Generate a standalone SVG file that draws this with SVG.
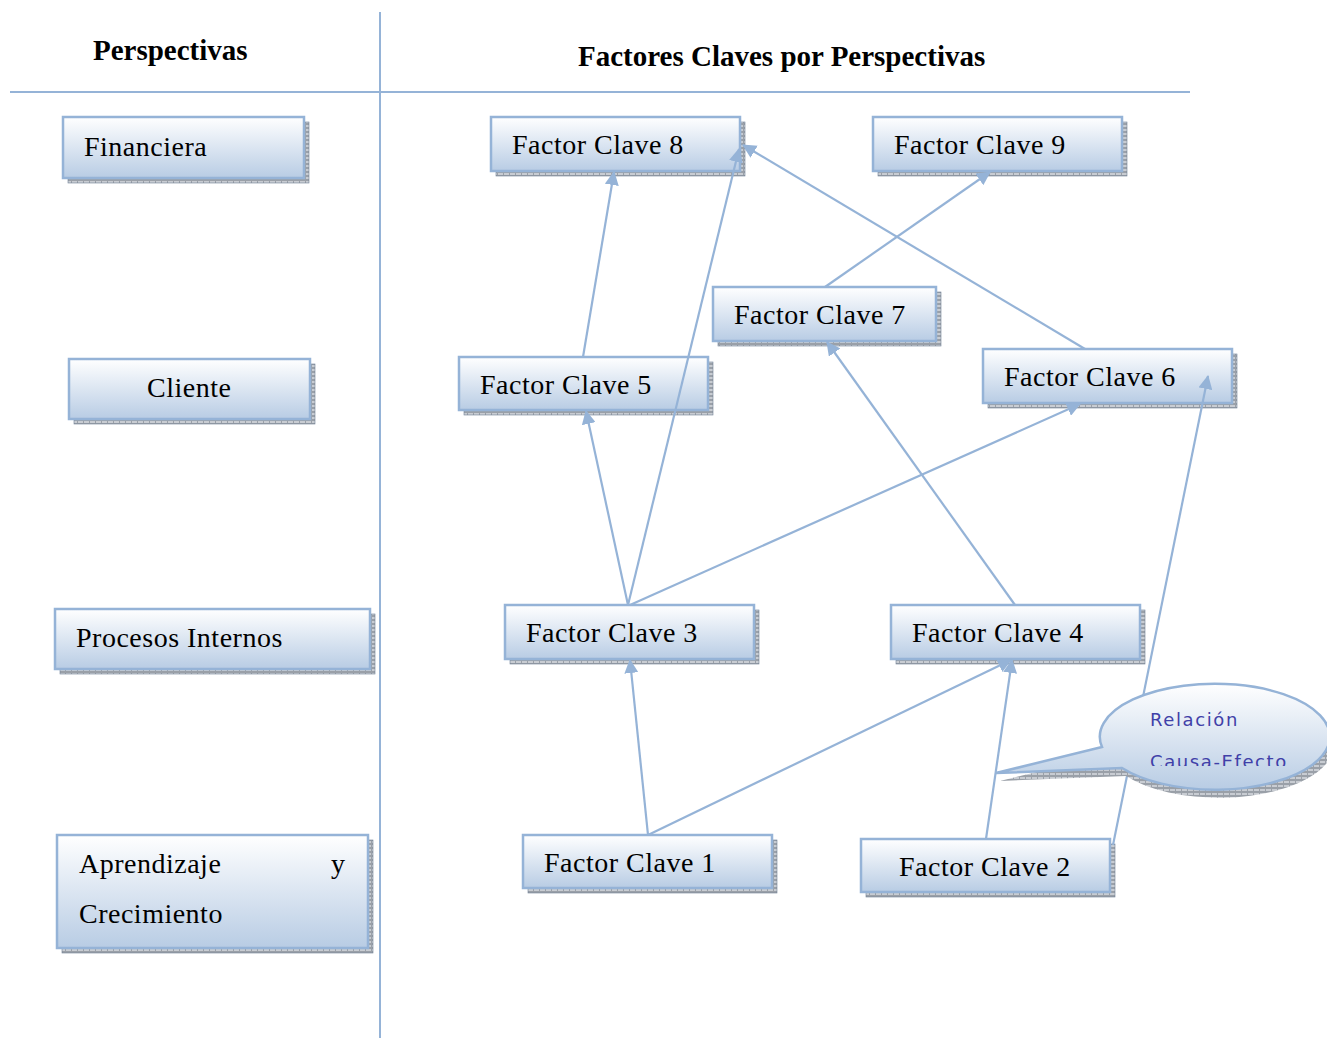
<svg xmlns="http://www.w3.org/2000/svg" width="1327" height="1038" viewBox="0 0 1327 1038">
<defs>
<linearGradient id="g" x1="0" y1="0" x2="0" y2="1">
<stop offset="0" stop-color="#ffffff"/>
<stop offset="1" stop-color="#b8cce4"/>
</linearGradient>
<pattern id="h" width="6" height="4" patternUnits="userSpaceOnUse">
<rect width="6" height="4" fill="#9aa0a8"/>
<rect x="0" y="1" width="5" height="2" fill="#c8ccd2"/>
</pattern>
<marker id="a" markerWidth="14" markerHeight="14" refX="13" refY="7" orient="auto" markerUnits="userSpaceOnUse">
<path d="M0,0 L14,7 L0,14 Z" fill="#95b3d7"/>
</marker>
<clipPath id="cc"><rect x="1100" y="680" width="227" height="86"/></clipPath>
</defs>
<style>
.box{fill:url(#g);stroke:#95b3d7;stroke-width:2.5}
.sh{fill:url(#h);stroke:#6f7f95;stroke-width:0.6}
.t{font-family:"Liberation Serif","Times New Roman",serif;font-size:28px;fill:#000;letter-spacing:0.5px}
.hd{font-family:"Liberation Serif","Times New Roman",serif;font-size:29px;font-weight:bold;fill:#000}
.c{fill:none;stroke:#95b3d7;stroke-width:2.2;marker-end:url(#a)}
.ct{font-family:"DejaVu Sans",Verdana,sans-serif;font-size:18px;fill:#4040a8;letter-spacing:1.6px}
</style>
<g id="frame" stroke="#95b3d7" stroke-width="2">
<line x1="380" y1="12" x2="380" y2="1038"/>
<line x1="10" y1="92" x2="1190" y2="92"/>
</g>
<text class="hd" x="93" y="60">Perspectivas</text>
<text class="hd" x="578" y="66">Factores Claves por Perspectivas</text>

<g id="p-financiera"><rect class="sh" x="68" y="122" width="241" height="61"/><rect class="box" x="63" y="117" width="241" height="61"/><text class="t" x="84" y="156">Financiera</text></g>
<g id="p-cliente"><rect class="sh" x="74" y="364" width="241" height="60"/><rect class="box" x="69" y="359" width="241" height="60"/><text class="t" x="147" y="397">Cliente</text></g>
<g id="p-procesos"><rect class="sh" x="60" y="614" width="315" height="60"/><rect class="box" x="55" y="609" width="315" height="60"/><text class="t" x="76" y="647">Procesos Internos</text></g>
<g id="p-aprendizaje"><rect class="sh" x="62" y="840" width="311" height="113"/><rect class="box" x="57" y="835" width="311" height="113"/><text class="t" x="79" y="873">Aprendizaje</text><text class="t" x="331" y="873">y</text><text class="t" x="79" y="923">Crecimiento</text></g>

<g id="fc8"><rect class="sh" x="496" y="122" width="249" height="54"/><rect class="box" x="491" y="117" width="249" height="54"/><text class="t" x="512" y="154">Factor Clave 8</text></g>
<g id="fc9"><rect class="sh" x="878" y="122" width="249" height="54"/><rect class="box" x="873" y="117" width="249" height="54"/><text class="t" x="894" y="154">Factor Clave 9</text></g>
<g id="fc7"><rect class="sh" x="718" y="292" width="223" height="54"/><rect class="box" x="713" y="287" width="223" height="54"/><text class="t" x="734" y="324">Factor Clave 7</text></g>
<g id="fc5"><rect class="sh" x="464" y="362" width="249" height="53"/><rect class="box" x="459" y="357" width="249" height="53"/><text class="t" x="480" y="394">Factor Clave 5</text></g>
<g id="fc6"><rect class="sh" x="988" y="354" width="249" height="54"/><rect class="box" x="983" y="349" width="249" height="54"/><text class="t" x="1004" y="386">Factor Clave 6</text></g>
<g id="fc3"><rect class="sh" x="510" y="610" width="249" height="54"/><rect class="box" x="505" y="605" width="249" height="54"/><text class="t" x="526" y="642">Factor Clave 3</text></g>
<g id="fc4"><rect class="sh" x="896" y="610" width="249" height="54"/><rect class="box" x="891" y="605" width="249" height="54"/><text class="t" x="912" y="642">Factor Clave 4</text></g>
<g id="fc1"><rect class="sh" x="528" y="840" width="249" height="53"/><rect class="box" x="523" y="835" width="249" height="53"/><text class="t" x="544" y="872">Factor Clave 1</text></g>
<g id="fc2"><rect class="sh" x="866" y="844" width="249" height="53"/><rect class="box" x="861" y="839" width="249" height="53"/><text class="t" x="899" y="876">Factor Clave 2</text></g>

<g id="connectors">
<line class="c" x1="583" y1="357" x2="614" y2="172"/>
<line class="c" x1="628" y1="605" x2="739" y2="149"/>
<line class="c" x1="1085" y1="349" x2="743" y2="145"/>
<line class="c" x1="825" y1="287" x2="990" y2="172"/>
<line class="c" x1="628" y1="605" x2="586" y2="411"/>
<line class="c" x1="630" y1="605" x2="1080" y2="404"/>
<line class="c" x1="1015" y1="605" x2="827" y2="342"/>
<line class="c" x1="648" y1="835" x2="630" y2="660"/>
<line class="c" x1="648" y1="835" x2="1011" y2="660"/>
<line class="c" x1="986" y1="839" x2="1012" y2="660"/>
<line class="c" x1="1113" y1="845" x2="1208" y2="376"/>
</g>

<g id="callout">
<path d="M1106,751 L1000,777 L1126,772 A115 53 0 1 0 1106,751 Z" fill="url(#h)" transform="translate(0,4)"/>
<path d="M1102,747 L996,773 L1122,768 A115 53 0 1 0 1102,747 Z" fill="url(#g)" stroke="#95b3d7" stroke-width="2.5"/>
<text class="ct" x="1150" y="726">Relación</text>
<text class="ct" x="1150" y="768" clip-path="url(#cc)">Causa-Efecto</text>
</g>
</svg>
